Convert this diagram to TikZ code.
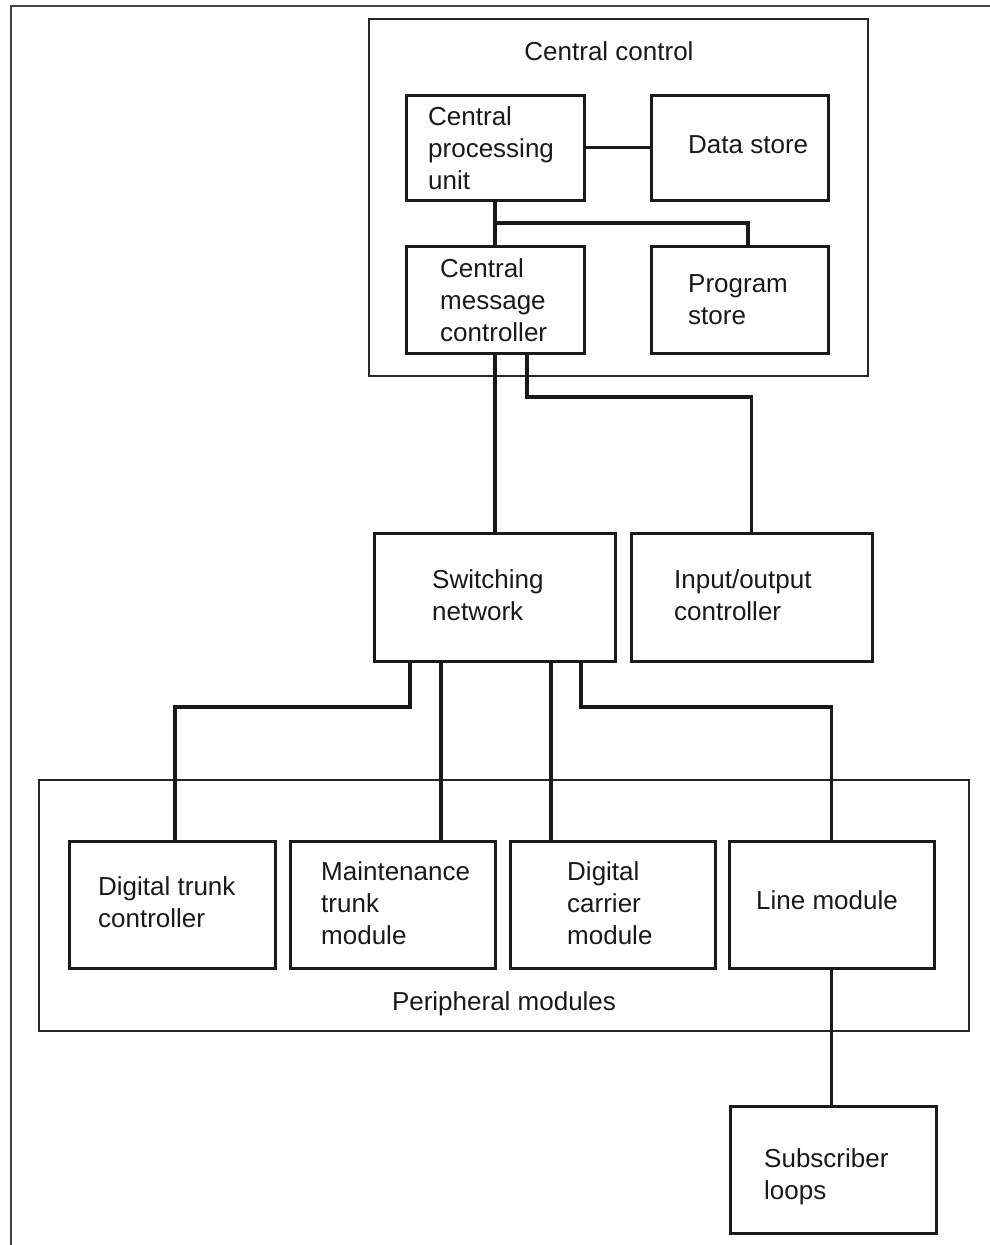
\documentclass[tikz,border=0pt]{standalone}
\usepackage{fontspec}
\setmainfont{Liberation Sans}
\newcommand\stk[1]{\vtop{\baselineskip=32pt\halign{##\hfil\cr#1\crcr}}}
\newcommand\mybox[6]{\node[#2, minimum width={(#5-#3)*1pt}, minimum height={(#6-#4)*1pt}] (#1) at ({(#3+#5)/2},{(#4+#6)/2}) {};}
\tikzset{
  box/.style={draw=black!90, line width=3pt, inner sep=0pt},
  group/.style={draw=black!85, line width=1.6pt, inner sep=0pt},
  wire/.style={draw=black!90, line width=3.5pt},
  lbl/.style={inner sep=0pt, anchor=base west, text=black!90, font=\fontsize{26}{32}\selectfont},
  frame/.style={draw=black!75, line width=2pt}
}
\begin{document}
\begin{tikzpicture}[x=1pt,y=-1pt]
\useasboundingbox (0,0) rectangle (990,1245);
\coordinate (f1) at (10.5,1245);
\coordinate (f2) at (10.5,5.5);
\coordinate (f3) at (990,5.5);
\draw[frame] (f1) -- (f2) -- (f3);

% containers
\mybox{cc}{group}{369}{19}{868}{376}
\mybox{pm}{group}{39}{780}{969}{1031}

% boxes
\mybox{cpu}{box}{406}{95}{584}{200}
\mybox{ds}{box}{651}{95}{828}{200}
\mybox{cmc}{box}{406}{246}{584}{353}
\mybox{ps}{box}{651}{246}{828}{353}
\mybox{sn}{box}{374}{533}{615}{661}
\mybox{io}{box}{631}{533}{872}{661}
\mybox{dtc}{box}{69}{841}{275}{968}
\mybox{mtm}{box}{290}{841}{495}{968}
\mybox{dcm}{box}{510}{841}{715}{968}
\mybox{lm}{box}{729}{841}{934}{968}
\mybox{sl}{box}{730}{1106}{936}{1233}

% labels
\node[lbl, anchor=base] (tcc) at (609,60) {Central control};
\node[lbl] (tcpu) at (428,125) {\stk{Central\cr processing\cr unit}};
\node[lbl] (tds) at (688,153) {Data store};
\node[lbl] (tcmc) at (440,277) {\stk{Central\cr message\cr controller}};
\node[lbl] (tps) at (688,292) {\stk{Program\cr store}};
\node[lbl] (tsn) at (432,588) {\stk{Switching\cr network}};
\node[lbl] (tio) at (674,588) {\stk{Input/output\cr controller}};
\node[lbl] (tdtc) at (98,895) {\stk{Digital trunk\cr controller}};
\node[lbl] (tmtm) at (321,880) {\stk{Maintenance\cr trunk\cr module}};
\node[lbl] (tdcm) at (567,880) {\stk{Digital\cr carrier\cr module}};
\node[lbl] (tlm) at (756,909) {Line module};
\node[lbl, anchor=base] (tpm) at (504,1010) {Peripheral modules};
\node[lbl] (tsl) at (764,1167) {\stk{Subscriber\cr loops}};

% connectors
\coordinate (j1) at (495,223);
\coordinate (j2) at (527,397);
\coordinate (j3) at (410,707);
\coordinate (j4) at (581,707);
\draw[wire] (cpu.east) -- (ds.west);
\draw[wire] (cpu.south) -- (cmc.north);
\draw[wire] (j1) -| ([xshift=8.5pt]ps.north);
\draw[wire] (cmc.south) -- (cmc.south |- sn.north);
\draw[wire] (cmc.south -| j2) -- (j2) -| (io.north);
\draw[wire] (sn.south -| j3) -- (j3) -| ([xshift=3pt]dtc.north);
\draw[wire] ([xshift=-53.5pt]sn.south) -- ([xshift=-53.5pt]sn.south |- mtm.north);
\draw[wire] ([xshift=56.5pt]sn.south) -- ([xshift=56.5pt]sn.south |- dcm.north);
\draw[wire] (sn.south -| j4) -- (j4) -| (lm.north);
\draw[wire] (lm.south) -- (lm.south |- sl.north);
\end{tikzpicture}
\end{document}
